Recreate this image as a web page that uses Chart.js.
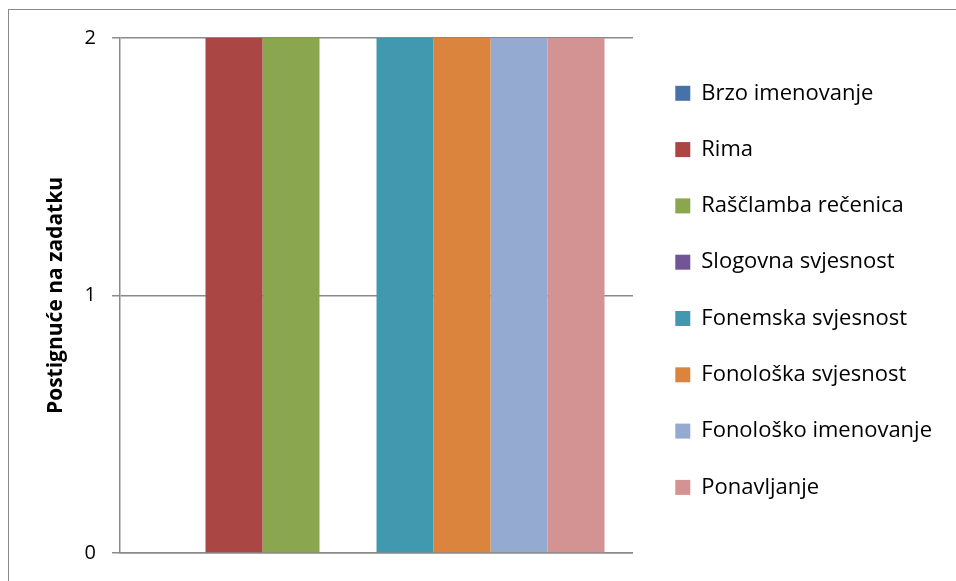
<!DOCTYPE html>
<html>
<head>
<meta charset="utf-8">
<script src="https://cdn.jsdelivr.net/npm/chart.js@4"></script>
<style>
  html, body { margin: 0; padding: 0; background: #fff; }
  #wrap { position: relative; width: 956px; height: 581px; overflow: hidden; }
  #frame { position: absolute; left: 8px; top: 9px; width: 960px; height: 600px; border: 1.5px solid #8a8a8a; box-sizing: border-box; }
  canvas { position: absolute; left: 0; top: 0; }
</style>
</head>
<body>
<div id="wrap">
  <div id="frame"></div>
  <canvas id="chart" width="956" height="581"></canvas>
</div>
<script>
const categories = [''];
const seriesNames = ['Brzo imenovanje', 'Rima', 'Raščlamba rečenica', 'Slogovna svjesnost',
    'Fonemska svjesnost', 'Fonološka svjesnost', 'Fonološko imenovanje', 'Ponavljanje'];
const seriesValues = [0, 2, 2, 0, 2, 2, 2, 2];
const seriesColors = ['#4672AA', '#AA4644', '#8AA64E', '#735497', '#4199B0', '#DB843D', '#95AAD0', '#D39392'];
const yTicks = [0, 1, 2];

const ctx = document.getElementById('chart').getContext('2d');
Chart.defaults.font.family = '"Open Sans", sans-serif';
Chart.defaults.color = '#000';

const chart = new Chart(ctx, {
    type: 'bar',
    data: {
        labels: categories,
        datasets: seriesNames.map((name, i) => ({
            label: name,
            data: [seriesValues[i]],
            backgroundColor: seriesColors[i],
            borderWidth: 0,
            barPercentage: 1,
            categoryPercentage: 0.889
        }))
    },
    options: {
        responsive: false,
        animation: false,
        layout: { padding: { left: 31.4, top: 38, right: 14, bottom: 24 } },
        plugins: {
            tooltip: { enabled: false },
            legend: {
                position: 'right',
                align: 'start',
                maxWidth: 400,
                title: { display: true, text: '', padding: 2.5, font: { size: 5, lineHeight: 1 } },
                labels: {
                    boxWidth: 15,
                    boxHeight: 15,
                    padding: 34.3,
                    font: { size: 22 },
                    color: '#000'
                }
            }
        },
        scales: {
            x: {
                ticks: { display: false },
                grid: { display: false, drawTicks: false },
                border: { color: '#8a8a8a', width: 1.5 },
                afterFit: axis => { axis.height = 0; }
            },
            y: {
                min: 0,
                max: 2,
                afterBuildTicks: axis => { axis.ticks = yTicks.map(v => ({ value: v })); },
                ticks: { font: { size: 20 }, padding: 16, color: '#000' },
                grid: { color: '#8a8a8a', lineWidth: 1.5, tickLength: 8 },
                border: { color: '#8a8a8a', width: 1.5 },
                title: {
                    display: true,
                    text: 'Postignuće na zadatku',
                    font: { size: 21, weight: 'bold' },
                    padding: { top: 12, bottom: 0 },
                    color: '#000'
                }
            },
            // empty spacer between plot and legend
            gap: {
                type: 'linear',
                position: 'right',
                ticks: { display: false },
                grid: { display: false, drawTicks: false },
                border: { display: false },
                afterFit: axis => { axis.width = 8; }
            }
        }
    }
});
</script>
</body>
</html>
